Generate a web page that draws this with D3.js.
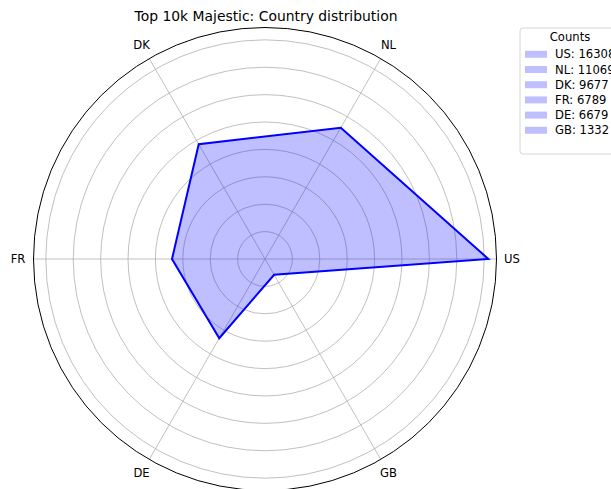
<!DOCTYPE html>
<html>
<head>
<meta charset="utf-8">
<script src="https://cdn.jsdelivr.net/npm/d3@7"></script>
<style>
  body { margin: 0; background: #fff; }
  text { font-family: "DejaVu Sans", sans-serif; fill: #000; }
</style>
</head>
<body>
<svg id="radar" width="611" height="489"></svg>
<script>
var countries = ["US", "NL", "DK", "FR", "DE", "GB"];
var counts = [16308, 11069, 9677, 6789, 6679, 1332];
var ringTicks = [2000, 4000, 6000, 8000, 10000, 12000, 14000, 16000];
var rMax = 16900;

var svg = d3.select("#radar"),
  cx = 265, cy = 259, R = 231.5,
  g = svg.append("g").attr("transform", "translate(" + cx + "," + cy + ")");

var r = d3.scaleLinear().domain([0, rMax]).range([0, R]);

// matplotlib style: theta 0 to the right, counter-clockwise
var theta = d3.scaleLinear().domain([0, countries.length]).range([0, 2 * Math.PI]);
function d3angle(i) { return Math.PI / 2 - theta(i); }

// grid rings
g.append("g")
  .selectAll("circle")
  .data(ringTicks)
  .enter().append("circle")
  .attr("r", function(d) { return r(d); })
  .style("fill", "none")
  .style("stroke", "#b0b0b0")
  .style("stroke-width", 0.8);

// spokes
g.append("g")
  .selectAll("line")
  .data(countries)
  .enter().append("line")
  .attr("x1", 0).attr("y1", 0)
  .attr("x2", function(d, i) { return R * Math.cos(theta(i)); })
  .attr("y2", function(d, i) { return -R * Math.sin(theta(i)); })
  .style("stroke", "#b0b0b0")
  .style("stroke-width", 0.8);

// the data polygon
var line = d3.lineRadial()
  .angle(function(d, i) { return d3angle(i); })
  .radius(function(d) { return r(d); })
  .curve(d3.curveLinearClosed);

g.append("path")
  .datum(counts)
  .attr("d", line)
  .style("fill", "rgba(0,0,255,0.25)")
  .style("stroke", "#0000ff")
  .style("stroke-width", 2)
  .style("stroke-linejoin", "miter");

// outer frame
g.append("circle")
  .attr("r", R)
  .style("fill", "none")
  .style("stroke", "#000")
  .style("stroke-width", 1);

// theta labels
g.append("g")
  .selectAll("text")
  .data(countries)
  .enter().append("text")
  .attr("x", function(d, i) { return 247 * Math.cos(theta(i)); })
  .attr("y", function(d, i) { return -247 * Math.sin(theta(i)); })
  .attr("text-anchor", "middle")
  .attr("dy", "0.35em")
  .style("font-size", "11.6px")
  .text(function(d) { return d; });

// title
svg.append("text")
  .attr("x", 266)
  .attr("y", 21)
  .attr("text-anchor", "middle")
  .style("font-size", "13.9px")
  .text("Top 10k Majestic: Country distribution");

// legend
var lg = svg.append("g").attr("transform", "translate(520,28)");

lg.append("rect")
  .attr("width", 120)
  .attr("height", 126)
  .attr("rx", 3)
  .style("fill", "#fff")
  .style("fill-opacity", 0.8)
  .style("stroke", "#d6d6d6")
  .style("stroke-width", 1);

lg.append("text")
  .attr("x", 50)
  .attr("y", 9)
  .attr("dy", "0.35em")
  .attr("text-anchor", "middle")
  .style("font-size", "11.6px")
  .text("Counts");

var items = lg.selectAll(".item")
  .data(countries)
  .enter().append("g")
  .attr("class", "item")
  .attr("transform", function(d, i) { return "translate(0," + (26.3 + i * 15.2) + ")"; });

items.append("rect")
  .attr("x", 5)
  .attr("y", -3.5)
  .attr("width", 22)
  .attr("height", 7)
  .style("fill", "rgba(0,0,255,0.25)");

items.append("text")
  .attr("x", 35)
  .attr("dy", "0.35em")
  .style("font-size", "11.6px")
  .text(function(d, i) { return d + ": " + counts[i]; });
</script>
</body>
</html>
